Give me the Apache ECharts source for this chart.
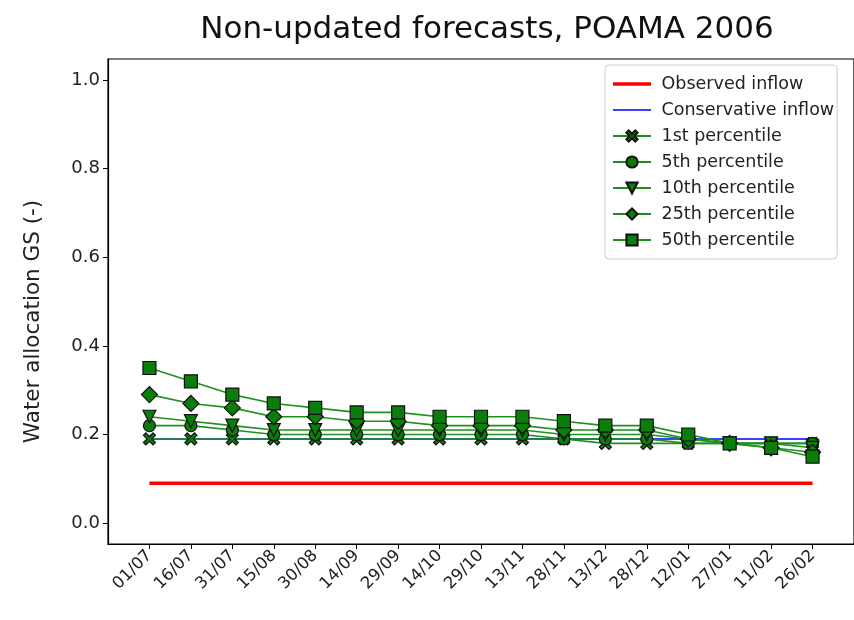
<!DOCTYPE html>
<html>
<head>
<meta charset="utf-8">
<script src="https://cdn.jsdelivr.net/npm/echarts@6/dist/echarts.min.js"></script>
<style>
html, body { margin: 0; padding: 0; background: #fff; }
#chart { width: 854px; height: 620px; }
</style>
</head>
<body>
<div id="chart"></div>
<script>
// 横轴日期
var dates = ['01/07', '16/07', '31/07', '15/08', '30/08', '14/09', '29/09', '14/10', '29/10',
	'13/11', '28/11', '13/12', '28/12', '12/01', '27/01', '11/02', '26/02'];
var yTicks = [0.0, 0.2, 0.4, 0.6, 0.8, 1.0];
// 各条曲线
var observedInflow = [0.09, 0.09, 0.09, 0.09, 0.09, 0.09, 0.09, 0.09, 0.09, 0.09, 0.09, 0.09, 0.09, 0.09, 0.09, 0.09, 0.09];
var conservativeInflow = [0.19, 0.19, 0.19, 0.19, 0.19, 0.19, 0.19, 0.19, 0.19, 0.19, 0.19, 0.19, 0.19, 0.19, 0.19, 0.19, 0.19];
var p1 = [0.19, 0.19, 0.19, 0.19, 0.19, 0.19, 0.19, 0.19, 0.19, 0.19, 0.19, 0.18, 0.18, 0.18, 0.18, 0.18, 0.18];
var p5 = [0.22, 0.22, 0.21, 0.20, 0.20, 0.20, 0.20, 0.20, 0.20, 0.20, 0.19, 0.19, 0.19, 0.18, 0.18, 0.18, 0.18];
var p10 = [0.24, 0.23, 0.22, 0.21, 0.21, 0.21, 0.21, 0.21, 0.21, 0.21, 0.20, 0.20, 0.20, 0.19, 0.18, 0.18, 0.17];
var p25 = [0.29, 0.27, 0.26, 0.24, 0.24, 0.23, 0.23, 0.22, 0.22, 0.22, 0.21, 0.21, 0.21, 0.19, 0.18, 0.17, 0.16];
var p50 = [0.35, 0.32, 0.29, 0.27, 0.26, 0.25, 0.25, 0.24, 0.24, 0.24, 0.23, 0.22, 0.22, 0.20, 0.18, 0.17, 0.15];

var xSymbol = 'path://M2,0 L5,3 L8,0 L10,2 L7,5 L10,8 L8,10 L5,7 L2,10 L0,8 L3,5 L0,2 Z';
var font = 'DejaVu Sans';

function toPairs(arr) {
	return arr.map(function(v, i) {
		return [i, v];
	});
}

function greenSeries(name, data, symbol, size, rotate) {
	return {
		name : name,
		type : 'line',
		data : toPairs(data),
		symbol : symbol,
		symbolSize : size,
		symbolRotate : rotate || 0,
		showAllSymbol : true,
		lineStyle : {
			color : '#1f8f1f',
			width : 1.6
		},
		itemStyle : {
			color : '#0b7d0b',
			borderColor : '#111',
			borderWidth : 1.2
		},
		emphasis : { disabled : true }
	};
}

var chart = echarts.init(document.getElementById('chart'));
chart.setOption({
	animation : false,
	textStyle : { fontFamily : font },
	title : {
		text : 'Non-updated forecasts, POAMA 2006',
		left : 482,
		top : 9,
		textAlign : 'center',
		textStyle : {
			fontFamily : font,
			fontSize : 31,
			fontWeight : 'normal',
			color : '#111'
		}
	},
	legend : {
		orient : 'vertical',
		left : 605,
		top : 65,
		padding : [ 10, 3, 10, 7 ],
		itemWidth : 38,
		itemHeight : 14,
		itemGap : 8,
		borderColor : '#cccccc',
		borderWidth : 1,
		borderRadius : 4,
		formatter : function(name) {
			return ' ' + name;
		},
		textStyle : {
			fontFamily : font,
			fontSize : 17.5,
			color : '#222'
		},
		data : [ {
			name : 'Observed inflow',
			icon : 'path://M0,0 L38,0 L38,3.5 L0,3.5 Z',
			itemStyle : { color : '#ff0000' }
		}, {
			name : 'Conservative inflow',
			icon : 'path://M0,0 L38,0 L38,1.5 L0,1.5 Z',
			itemStyle : { color : '#0000ff' }
		}, '1st percentile', '5th percentile', '10th percentile', '25th percentile', '50th percentile' ]
	},
	grid : {
		left : 108,
		top : 59,
		right : -1,
		bottom : 76,
		show : true,
		borderColor : '#000',
		borderWidth : 1.2
	},
	xAxis : {
		type : 'value',
		min : -1,
		max : 17,
		splitLine : { show : false },
		axisLine : { onZero : false, lineStyle : { color : '#000', width : 1.2 } },
		axisTick : {
			length : 5,
			lineStyle : { color : '#000' },
			customValues : dates.map(function(d, i) { return i; })
		},
		axisLabel : {
			rotate : 45,
			fontSize : 16.5,
			color : '#222',
			margin : 9,
			customValues : dates.map(function(d, i) { return i; }),
			formatter : function(v) {
				return dates[v];
			}
		}
	},
	yAxis : {
		type : 'value',
		min : -0.047,
		max : 1.047,
		name : 'Water allocation GS (-)',
		nameLocation : 'middle',
		nameGap : 64,
		nameTextStyle : {
			fontFamily : font,
			fontSize : 21.5,
			color : '#222',
			padding : [ 0, 40, 0, 0 ]
		},
		splitLine : { show : false },
		axisLine : { show : true, onZero : false, lineStyle : { color : '#000', width : 1.2 } },
		axisTick : {
			show : true,
			length : 5,
			lineStyle : { color : '#000' },
			customValues : yTicks
		},
		axisLabel : {
			fontSize : 18,
			color : '#222',
			margin : 8,
			customValues : yTicks,
			formatter : function(v) {
				return v.toFixed(1);
			}
		}
	},
	series : [ {
		name : 'Observed inflow',
		type : 'line',
		data : toPairs(observedInflow),
		symbol : 'none',
		lineStyle : { color : '#ff0000', width : 3.5 },
		itemStyle : { color : '#ff0000' }
	}, {
		name : 'Conservative inflow',
		type : 'line',
		data : toPairs(conservativeInflow),
		symbol : 'none',
		lineStyle : { color : '#0000ff', width : 1.5 },
		itemStyle : { color : '#0000ff' }
	},
		greenSeries('1st percentile', p1, xSymbol, 12),
		greenSeries('5th percentile', p5, 'circle', 12),
		greenSeries('10th percentile', p10, 'triangle', 13, 180),
		greenSeries('25th percentile', p25, 'diamond', 16),
		greenSeries('50th percentile', p50, 'rect', 13)
	]
});
</script>
</body>
</html>
